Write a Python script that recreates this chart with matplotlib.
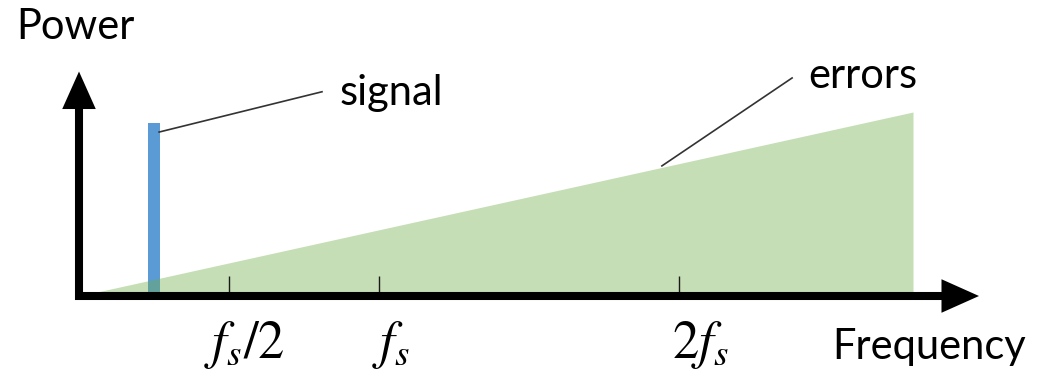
import matplotlib
matplotlib.use("Agg")
import matplotlib.pyplot as plt

plt.rcParams["font.family"] = ["Lato", "DejaVu Sans"]
plt.rcParams["mathtext.fontset"] = "stix"

# frequency in units of fs, power in arbitrary units
error_freq = [0.0, 2.78]
error_power = [0.0, 1.0]
signal_freq = 0.25
signal_power = 0.94
signal_width = 0.04
tick_freqs = [0.5, 1.0, 2.0]
tick_labels = [r"$f_s/2$", r"$f_s$", r"$2f_s$"]
tick_label_x = [0.417, 0.977, 1.977]

fig = plt.figure(figsize=(10.38, 3.73), dpi=100)
ax = fig.add_axes([0, 0, 1, 1])
ax.set_xlim(-79 / 300, 959 / 300)
ax.set_ylim(-77 / 184, 296 / 184)
ax.axis("off")

# signal bar, errors wedge drawn over it (semi transparent)
ax.bar(signal_freq, signal_power, width=signal_width, color="#5B9BD5", zorder=2)
ax.fill_between(error_freq, error_power, 0, color="#70AD47", alpha=0.4,
                linewidth=0, zorder=3)

# ticks
ax.vlines(tick_freqs, 0, 0.11, color="#1a1a1a", lw=1, zorder=4)
for x, lab in zip(tick_label_x, tick_labels):
    ax.text(x, -0.335, lab, fontsize=38, ha="left", va="baseline")

# axes arrows
arrow = dict(arrowstyle="-|>,head_length=0.85,head_width=0.38", lw=5.8,
             color="black", mutation_scale=20, shrinkA=0, shrinkB=0,
             capstyle="butt", joinstyle="miter")
ax.annotate("", xy=(3.0, 0), xytext=(-0.0133, 0), arrowprops=arrow, zorder=5)
ax.annotate("", xy=(0, 1.22), xytext=(0, -0.0217), arrowprops=arrow, zorder=5)

# leader lines and labels
ax.plot([0.267, 0.81], [0.891, 1.11], color="#333333", lw=1.2, zorder=4)
ax.plot([1.943, 2.377], [0.707, 1.185], color="#333333", lw=1.2, zorder=4)
ax.text(0.867, 1.038, "signal", fontsize=30, va="baseline")
ax.text(2.43, 1.13, "errors", fontsize=30, va="baseline")
ax.text(-0.21, 1.397, "Power", fontsize=30, va="baseline")
ax.text(2.51, -0.342, "Frequency", fontsize=30, va="baseline")

fig.savefig("out.png", dpi=100)
